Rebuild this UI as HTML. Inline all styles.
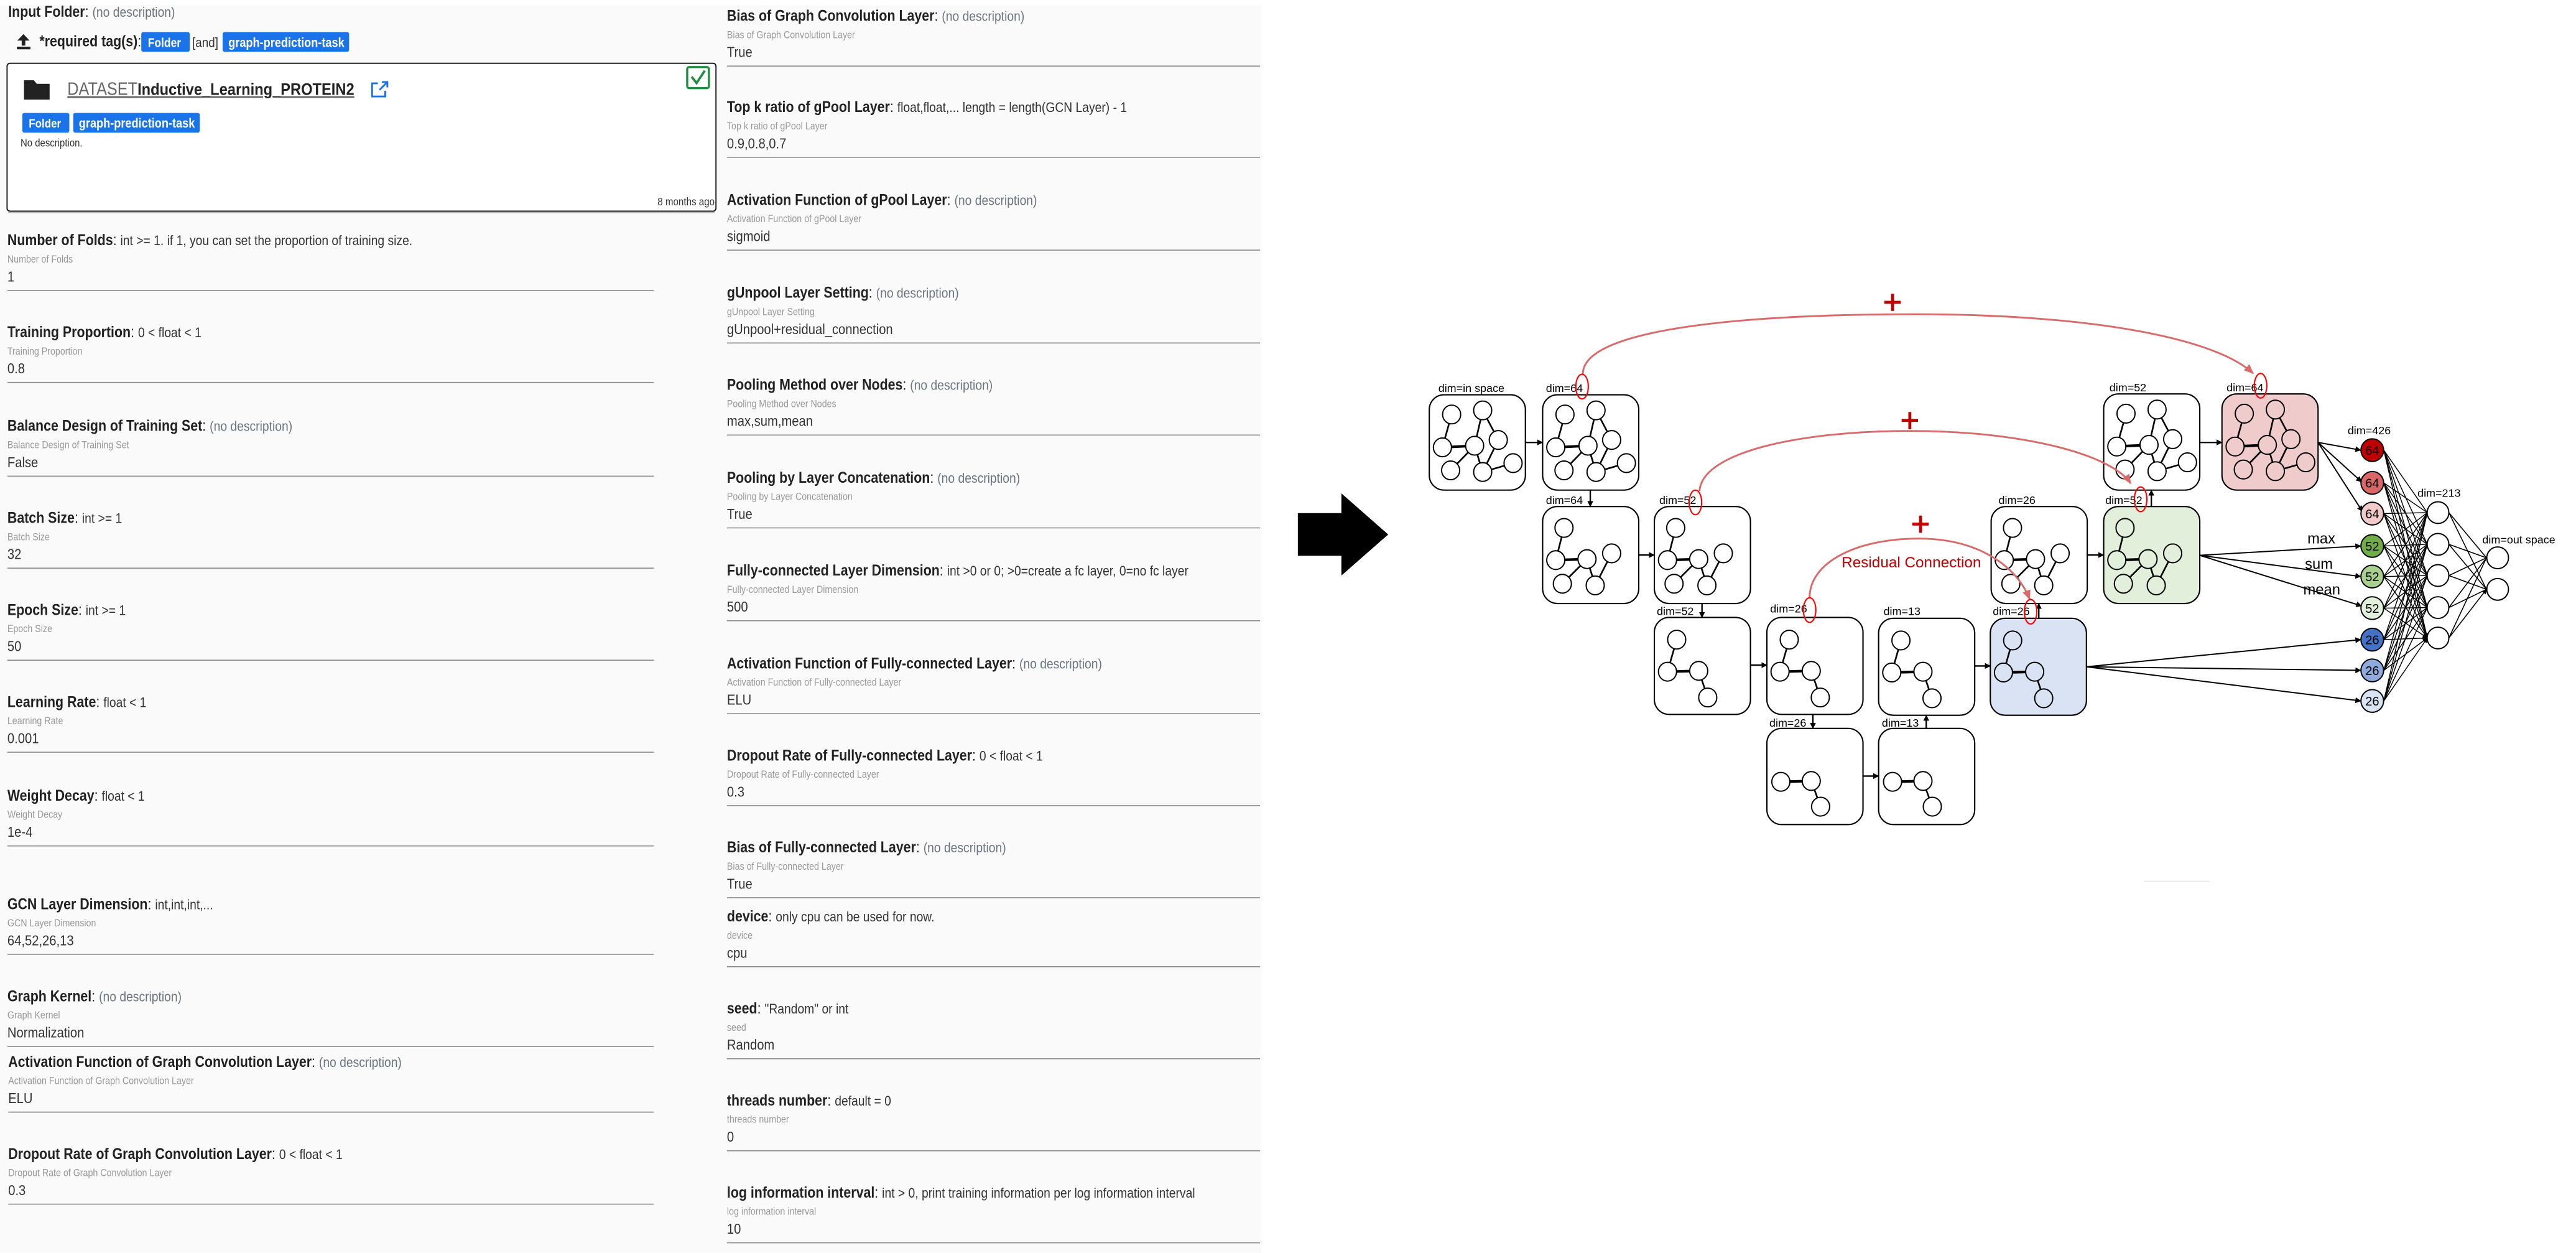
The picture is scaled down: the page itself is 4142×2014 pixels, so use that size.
<!DOCTYPE html>
<html><head><meta charset="utf-8"><style>
html,body{margin:0;padding:0;background:#fff;}
svg{display:block;}
text{font-family:"Liberation Sans",sans-serif;}
.t{font-weight:bold;font-size:9.3px;fill:#222;}
.d{font-size:8.4px;fill:#333;}
.n{font-size:8.4px;fill:#6b7580;}
.s{font-size:6.2px;fill:#999;}
.v{font-size:8.8px;fill:#333;}
.dl{font-size:6.8px;fill:#000;}
</style></head><body>
<svg width="4142" height="2014" viewBox="0 0 1568 762" xmlns="http://www.w3.org/2000/svg">
<defs>
<marker id="ah" viewBox="0 0 6 6" markerWidth="3.6" markerHeight="3.6" refX="5.5" refY="3" orient="auto" markerUnits="userSpaceOnUse"><path d="M0,0 L6,3 L0,6 z" fill="#000"/></marker>
<marker id="ah2" viewBox="0 0 6 6" markerWidth="3" markerHeight="3" refX="5.5" refY="3" orient="auto" markerUnits="userSpaceOnUse"><path d="M0,0 L6,3 L0,6 z" fill="#000"/></marker>
<marker id="rh" viewBox="0 0 6 6" markerWidth="6" markerHeight="6" refX="5.5" refY="3" orient="auto" markerUnits="userSpaceOnUse"><path d="M0,0.5 L6,3 L0,5.5 z" fill="#d96a6a"/></marker>
<g id="gbig" stroke="#000">
<g stroke-width="1"><line x1="13.6" y1="12" x2="8" y2="32"/><line x1="32.5" y1="9.5" x2="27.6" y2="31"/><line x1="32.5" y1="9.5" x2="42" y2="27.5"/><line x1="8" y1="32" x2="27.6" y2="31" stroke-width="1.6"/><line x1="27.6" y1="31" x2="13" y2="46"/><line x1="27.6" y1="31" x2="32.5" y2="47"/><line x1="42" y1="27.5" x2="32.5" y2="47"/><line x1="32.5" y1="47" x2="51" y2="41.6"/></g>
<g fill="currentColor" stroke-width="0.75"><ellipse cx="13.6" cy="12" rx="5.5" ry="5.7"/><ellipse cx="32.5" cy="9.5" rx="5.5" ry="5.7"/><ellipse cx="8" cy="32" rx="5.5" ry="5.7"/><ellipse cx="27.6" cy="31" rx="5.5" ry="5.7"/><ellipse cx="42" cy="27.5" rx="5.5" ry="5.7"/><ellipse cx="13" cy="46" rx="5.5" ry="5.7"/><ellipse cx="32.5" cy="47" rx="5.5" ry="5.7"/><ellipse cx="51" cy="41.6" rx="5.5" ry="5.7"/></g>
</g>
<g id="gmed" stroke="#000">
<g stroke-width="1"><line x1="13" y1="13" x2="8" y2="32.6"/><line x1="8" y1="32.6" x2="27" y2="32" stroke-width="1.6"/><line x1="27" y1="32" x2="12" y2="47"/><line x1="27" y1="32" x2="32" y2="48"/><line x1="42" y1="28.5" x2="32" y2="48"/></g>
<g fill="currentColor" stroke-width="0.75"><ellipse cx="13" cy="13" rx="5.5" ry="5.7"/><ellipse cx="8" cy="32.6" rx="5.5" ry="5.7"/><ellipse cx="27" cy="32" rx="5.5" ry="5.7"/><ellipse cx="42" cy="28.5" rx="5.5" ry="5.7"/><ellipse cx="12" cy="47" rx="5.5" ry="5.7"/><ellipse cx="32" cy="48" rx="5.5" ry="5.7"/></g>
</g>
<g id="gsm" stroke="#000">
<g stroke-width="1"><line x1="13.6" y1="13.5" x2="8" y2="33"/><line x1="8" y1="33" x2="27" y2="32.5" stroke-width="1.6"/><line x1="27" y1="32.5" x2="32.5" y2="48.7"/></g>
<g fill="currentColor" stroke-width="0.75"><ellipse cx="13.6" cy="13.5" rx="5.5" ry="5.7"/><ellipse cx="8" cy="33" rx="5.5" ry="5.7"/><ellipse cx="27" cy="32.5" rx="5.5" ry="5.7"/><ellipse cx="32.5" cy="48.7" rx="5.5" ry="5.7"/></g>
</g>
<g id="gti" stroke="#000">
<g stroke-width="1"><line x1="8.5" y1="32.5" x2="27" y2="32" stroke-width="1.6"/><line x1="27" y1="32" x2="32.7" y2="47.6"/></g>
<g fill="currentColor" stroke-width="0.75"><ellipse cx="8.5" cy="32.5" rx="5.5" ry="5.7"/><ellipse cx="27" cy="32" rx="5.5" ry="5.7"/><ellipse cx="32.7" cy="47.6" rx="5.5" ry="5.7"/></g>
</g>
</defs>

<rect x="0" y="3" width="768" height="759" fill="#fafafa"/>

<g transform="translate(5,10) scale(0.87,1)"><text class="t">Input Folder<tspan font-weight="normal">: </tspan><tspan class="n" font-weight="normal" font-size="8.8">(no description)</tspan></text></g>
<g fill="#222"><path d="M14.3,20.5 L10.5,24.5 L13.2,24.5 L13.2,27.5 L15.4,27.5 L15.4,24.5 L18,24.5 Z"/><rect x="10.3" y="28.2" width="8.2" height="1.6"/></g>
<g transform="translate(24,28) scale(0.87,1)"><text class="t" font-size="8.6">*required tag(s)<tspan font-weight="normal">:</tspan></text></g>
<rect x="86" y="19.3" width="29.5" height="12" rx="1.2" fill="#1a73e8"/>
<g transform="translate(90,28.3) scale(0.87,1)"><text font-size="7.6" font-weight="bold" fill="#fff">Folder</text></g>
<g transform="translate(117,28.3) scale(0.87,1)"><text font-size="8.2" fill="#333">[and]</text></g>
<rect x="135.5" y="19.3" width="77" height="12" rx="1.2" fill="#1a73e8"/>
<g transform="translate(139,28.3) scale(0.87,1)"><text font-size="7.9" font-weight="bold" fill="#fff">graph-prediction-task</text></g>

<rect x="4.3" y="38.3" width="431.5" height="90" rx="1.8" fill="#fff" stroke="#111" stroke-width="0.7"/>
<line x1="5" y1="129.2" x2="435" y2="129.2" stroke="#bbb" stroke-width="0.6"/>
<path d="M14.6,48.6 h6 l1.8,2.2 h7.8 v9.6 h-15.6 z" fill="#222"/>
<g transform="translate(41,57.5) scale(0.87,1)"><text font-size="11" fill="#666" text-decoration="underline">DATASET<tspan fill="#222" font-weight="bold" font-size="10.3" text-decoration="none">Inductive_Learning_PROTEIN2</tspan></text></g>
<g fill="none" stroke="#1a73e8" stroke-width="1.1"><path d="M230,50.5 h-3.5 v8 h8 v-3.5"/><path d="M231,54.5 L235.5,50"/><path d="M232.5,49.7 h3.3 v3.3"/></g>
<rect x="13.6" y="68.5" width="28.6" height="12" rx="1.2" fill="#1a73e8"/>
<g transform="translate(17.5,77.4) scale(0.87,1)"><text font-size="7.4" font-weight="bold" fill="#fff">Folder</text></g>
<rect x="44.6" y="68.5" width="77" height="12" rx="1.2" fill="#1a73e8"/>
<g transform="translate(48,77.4) scale(0.87,1)"><text font-size="7.9" font-weight="bold" fill="#fff">graph-prediction-task</text></g>
<g transform="translate(12.5,89) scale(0.87,1)"><text font-size="6.5" fill="#333">No description.</text></g>
<g transform="translate(435,124.8) scale(0.87,1)"><text font-size="6.6" fill="#333" text-anchor="end">8 months ago</text></g>
<rect x="418.3" y="40.6" width="13.2" height="12.8" rx="1.2" fill="none" stroke="#1e8e3e" stroke-width="1.3"/>
<path d="M421,46.5 L424,50.3 L429,42.8" fill="none" stroke="#1e8e3e" stroke-width="1.4"/>

<g>
<g transform="translate(4.5,149) scale(0.87,1)"><text class="t">Number of Folds<tspan font-weight="normal">: </tspan><tspan class="d" font-weight="normal">int &gt;= 1. if 1, you can set the proportion of training size.</tspan></text><text class="s" y="10.5">Number of Folds</text><text class="v" y="22">1</text></g>
<line x1="4.5" x2="398" y1="176.5" y2="176.5" stroke="#8a8a8a" stroke-width="0.6"/>
<g transform="translate(4.5,205) scale(0.87,1)"><text class="t">Training Proportion<tspan font-weight="normal">: </tspan><tspan class="d" font-weight="normal">0 &lt; float &lt; 1</tspan></text><text class="s" y="10.5">Training Proportion</text><text class="v" y="22">0.8</text></g>
<line x1="4.5" x2="398" y1="232.5" y2="232.5" stroke="#8a8a8a" stroke-width="0.6"/>
<g transform="translate(4.5,262) scale(0.87,1)"><text class="t">Balance Design of Training Set<tspan font-weight="normal">: </tspan><tspan class="n" font-weight="normal">(no description)</tspan></text><text class="s" y="10.5">Balance Design of Training Set</text><text class="v" y="22">False</text></g>
<line x1="4.5" x2="398" y1="289.5" y2="289.5" stroke="#8a8a8a" stroke-width="0.6"/>
<g transform="translate(4.5,318) scale(0.87,1)"><text class="t">Batch Size<tspan font-weight="normal">: </tspan><tspan class="d" font-weight="normal">int &gt;= 1</tspan></text><text class="s" y="10.5">Batch Size</text><text class="v" y="22">32</text></g>
<line x1="4.5" x2="398" y1="345.5" y2="345.5" stroke="#8a8a8a" stroke-width="0.6"/>
<g transform="translate(4.5,374) scale(0.87,1)"><text class="t">Epoch Size<tspan font-weight="normal">: </tspan><tspan class="d" font-weight="normal">int &gt;= 1</tspan></text><text class="s" y="10.5">Epoch Size</text><text class="v" y="22">50</text></g>
<line x1="4.5" x2="398" y1="401.5" y2="401.5" stroke="#8a8a8a" stroke-width="0.6"/>
<g transform="translate(4.5,430) scale(0.87,1)"><text class="t">Learning Rate<tspan font-weight="normal">: </tspan><tspan class="d" font-weight="normal">float &lt; 1</tspan></text><text class="s" y="10.5">Learning Rate</text><text class="v" y="22">0.001</text></g>
<line x1="4.5" x2="398" y1="457.5" y2="457.5" stroke="#8a8a8a" stroke-width="0.6"/>
<g transform="translate(4.5,487) scale(0.87,1)"><text class="t">Weight Decay<tspan font-weight="normal">: </tspan><tspan class="d" font-weight="normal">float &lt; 1</tspan></text><text class="s" y="10.5">Weight Decay</text><text class="v" y="22">1e-4</text></g>
<line x1="4.5" x2="398" y1="514.5" y2="514.5" stroke="#8a8a8a" stroke-width="0.6"/>
<g transform="translate(4.5,553) scale(0.87,1)"><text class="t">GCN Layer Dimension<tspan font-weight="normal">: </tspan><tspan class="d" font-weight="normal">int,int,int,...</tspan></text><text class="s" y="10.5">GCN Layer Dimension</text><text class="v" y="22">64,52,26,13</text></g>
<line x1="4.5" x2="398" y1="580.5" y2="580.5" stroke="#8a8a8a" stroke-width="0.6"/>
<g transform="translate(4.5,609) scale(0.87,1)"><text class="t">Graph Kernel<tspan font-weight="normal">: </tspan><tspan class="n" font-weight="normal">(no description)</tspan></text><text class="s" y="10.5">Graph Kernel</text><text class="v" y="22">Normalization</text></g>
<line x1="4.5" x2="398" y1="636.5" y2="636.5" stroke="#8a8a8a" stroke-width="0.6"/>
<g transform="translate(5,649) scale(0.87,1)"><text class="t">Activation Function of Graph Convolution Layer<tspan font-weight="normal">: </tspan><tspan class="n" font-weight="normal">(no description)</tspan></text><text class="s" y="10.5">Activation Function of Graph Convolution Layer</text><text class="v" y="22">ELU</text></g>
<line x1="5" x2="398" y1="676.5" y2="676.5" stroke="#8a8a8a" stroke-width="0.6"/>
<g transform="translate(5,705) scale(0.87,1)"><text class="t">Dropout Rate of Graph Convolution Layer<tspan font-weight="normal">: </tspan><tspan class="d" font-weight="normal">0 &lt; float &lt; 1</tspan></text><text class="s" y="10.5">Dropout Rate of Graph Convolution Layer</text><text class="v" y="22">0.3</text></g>
<line x1="5" x2="398" y1="732.5" y2="732.5" stroke="#8a8a8a" stroke-width="0.6"/>
</g>

<g>
<g transform="translate(442.5,12.5) scale(0.87,1)"><text class="t">Bias of Graph Convolution Layer<tspan font-weight="normal">: </tspan><tspan class="n" font-weight="normal">(no description)</tspan></text><text class="s" y="10.5">Bias of Graph Convolution Layer</text><text class="v" y="22">True</text></g>
<line x1="442.5" x2="767" y1="40" y2="40" stroke="#8a8a8a" stroke-width="0.6"/>
<g transform="translate(442.5,68) scale(0.87,1)"><text class="t">Top k ratio of gPool Layer<tspan font-weight="normal">: </tspan><tspan class="d" font-weight="normal">float,float,... length = length(GCN Layer) - 1</tspan></text><text class="s" y="10.5">Top k ratio of gPool Layer</text><text class="v" y="22">0.9,0.8,0.7</text></g>
<line x1="442.5" x2="767" y1="95.5" y2="95.5" stroke="#8a8a8a" stroke-width="0.6"/>
<g transform="translate(442.5,124.5) scale(0.87,1)"><text class="t">Activation Function of gPool Layer<tspan font-weight="normal">: </tspan><tspan class="n" font-weight="normal">(no description)</tspan></text><text class="s" y="10.5">Activation Function of gPool Layer</text><text class="v" y="22">sigmoid</text></g>
<line x1="442.5" x2="767" y1="152" y2="152" stroke="#8a8a8a" stroke-width="0.6"/>
<g transform="translate(442.5,181) scale(0.87,1)"><text class="t">gUnpool Layer Setting<tspan font-weight="normal">: </tspan><tspan class="n" font-weight="normal">(no description)</tspan></text><text class="s" y="10.5">gUnpool Layer Setting</text><text class="v" y="22">gUnpool+residual_connection</text></g>
<line x1="442.5" x2="767" y1="208.5" y2="208.5" stroke="#8a8a8a" stroke-width="0.6"/>
<g transform="translate(442.5,237) scale(0.87,1)"><text class="t">Pooling Method over Nodes<tspan font-weight="normal">: </tspan><tspan class="n" font-weight="normal">(no description)</tspan></text><text class="s" y="10.5">Pooling Method over Nodes</text><text class="v" y="22">max,sum,mean</text></g>
<line x1="442.5" x2="767" y1="264.5" y2="264.5" stroke="#8a8a8a" stroke-width="0.6"/>
<g transform="translate(442.5,293.5) scale(0.87,1)"><text class="t">Pooling by Layer Concatenation<tspan font-weight="normal">: </tspan><tspan class="n" font-weight="normal">(no description)</tspan></text><text class="s" y="10.5">Pooling by Layer Concatenation</text><text class="v" y="22">True</text></g>
<line x1="442.5" x2="767" y1="321" y2="321" stroke="#8a8a8a" stroke-width="0.6"/>
<g transform="translate(442.5,350) scale(0.87,1)"><text class="t">Fully-connected Layer Dimension<tspan font-weight="normal">: </tspan><tspan class="d" font-weight="normal">int &gt;0 or 0; &gt;0=create a fc layer, 0=no fc layer</tspan></text><text class="s" y="10.5">Fully-connected Layer Dimension</text><text class="v" y="22">500</text></g>
<line x1="442.5" x2="767" y1="377.5" y2="377.5" stroke="#8a8a8a" stroke-width="0.6"/>
<g transform="translate(442.5,406.5) scale(0.87,1)"><text class="t">Activation Function of Fully-connected Layer<tspan font-weight="normal">: </tspan><tspan class="n" font-weight="normal">(no description)</tspan></text><text class="s" y="10.5">Activation Function of Fully-connected Layer</text><text class="v" y="22">ELU</text></g>
<line x1="442.5" x2="767" y1="434" y2="434" stroke="#8a8a8a" stroke-width="0.6"/>
<g transform="translate(442.5,462.5) scale(0.87,1)"><text class="t">Dropout Rate of Fully-connected Layer<tspan font-weight="normal">: </tspan><tspan class="d" font-weight="normal">0 &lt; float &lt; 1</tspan></text><text class="s" y="10.5">Dropout Rate of Fully-connected Layer</text><text class="v" y="22">0.3</text></g>
<line x1="442.5" x2="767" y1="490" y2="490" stroke="#8a8a8a" stroke-width="0.6"/>
<g transform="translate(442.5,518.5) scale(0.87,1)"><text class="t">Bias of Fully-connected Layer<tspan font-weight="normal">: </tspan><tspan class="n" font-weight="normal">(no description)</tspan></text><text class="s" y="10.5">Bias of Fully-connected Layer</text><text class="v" y="22">True</text></g>
<line x1="442.5" x2="767" y1="546" y2="546" stroke="#8a8a8a" stroke-width="0.6"/>
<g transform="translate(442.5,560.5) scale(0.87,1)"><text class="t">device<tspan font-weight="normal">: </tspan><tspan class="d" font-weight="normal">only cpu can be used for now.</tspan></text><text class="s" y="10.5">device</text><text class="v" y="22">cpu</text></g>
<line x1="442.5" x2="767" y1="588" y2="588" stroke="#8a8a8a" stroke-width="0.6"/>
<g transform="translate(442.5,616.5) scale(0.87,1)"><text class="t">seed<tspan font-weight="normal">: </tspan><tspan class="d" font-weight="normal">"Random" or int</tspan></text><text class="s" y="10.5">seed</text><text class="v" y="22">Random</text></g>
<line x1="442.5" x2="767" y1="644" y2="644" stroke="#8a8a8a" stroke-width="0.6"/>
<g transform="translate(442.5,672.5) scale(0.87,1)"><text class="t">threads number<tspan font-weight="normal">: </tspan><tspan class="d" font-weight="normal">default = 0</tspan></text><text class="s" y="10.5">threads number</text><text class="v" y="22">0</text></g>
<line x1="442.5" x2="767" y1="700" y2="700" stroke="#8a8a8a" stroke-width="0.6"/>
<g transform="translate(442.5,728.5) scale(0.87,1)"><text class="t">log information interval<tspan font-weight="normal">: </tspan><tspan class="d" font-weight="normal">int &gt; 0, print training information per log information interval</tspan></text><text class="s" y="10.5">log information interval</text><text class="v" y="22">10</text></g>
<line x1="442.5" x2="767" y1="756" y2="756" stroke="#8a8a8a" stroke-width="0.6"/>
</g>

<path d="M790,312 H816.5 V300 L845,325 L816.5,350 V338 H790 Z" fill="#000"/>

<g stroke="#000" stroke-width="0.8">
<rect x="870" y="240" width="58.5" height="58" rx="9" fill="#fff"/>
<rect x="939" y="240" width="58.5" height="58" rx="9" fill="#fff"/>
<rect x="939" y="308" width="58.5" height="59" rx="9" fill="#fff"/>
<rect x="1007" y="308" width="58.5" height="59" rx="9" fill="#fff"/>
<rect x="1007" y="375.5" width="58.5" height="59" rx="9" fill="#fff"/>
<rect x="1075.5" y="375.5" width="58.5" height="59" rx="9" fill="#fff"/>
<rect x="1143.5" y="376" width="58.5" height="59" rx="9" fill="#fff"/>
<rect x="1211.5" y="376" width="58.5" height="59" rx="9" fill="#dae3f3"/>
<rect x="1075.5" y="443" width="58.5" height="58.5" rx="9" fill="#fff"/>
<rect x="1143.5" y="443" width="58.5" height="58.5" rx="9" fill="#fff"/>
<rect x="1212" y="308" width="58.5" height="59" rx="9" fill="#fff"/>
<rect x="1280.5" y="308" width="58.5" height="59" rx="9" fill="#e2efda"/>
<rect x="1280.5" y="239.5" width="58.5" height="58.5" rx="9" fill="#fff"/>
<rect x="1352.5" y="239.5" width="58.5" height="58.5" rx="9" fill="#f0cbcb"/>
</g>
<use href="#gbig" x="870" y="240" color="#fff"/>
<use href="#gbig" x="939" y="240" color="#fff"/>
<use href="#gbig" x="1280.5" y="239.5" color="#fff"/>
<use href="#gbig" x="1352.5" y="239.5" color="#f0cbcb"/>
<use href="#gmed" x="939" y="308" color="#fff"/>
<use href="#gmed" x="1007" y="308" color="#fff"/>
<use href="#gmed" x="1212" y="308" color="#fff"/>
<use href="#gmed" x="1280.5" y="308" color="#e2efda"/>
<use href="#gsm" x="1007" y="375.5" color="#fff"/>
<use href="#gsm" x="1075.5" y="375.5" color="#fff"/>
<use href="#gsm" x="1143.5" y="376" color="#fff"/>
<use href="#gsm" x="1211.5" y="376" color="#dae3f3"/>
<use href="#gti" x="1075.5" y="443" color="#fff"/>
<use href="#gti" x="1143.5" y="443" color="#fff"/>

<g stroke="#000" stroke-width="0.9" marker-end="url(#ah)">
<line x1="928.5" y1="269" x2="939" y2="269"/>
<line x1="968" y1="298" x2="968" y2="308"/>
<line x1="997.5" y1="337.5" x2="1007" y2="337.5"/>
<line x1="1036" y1="367" x2="1036" y2="375.5"/>
<line x1="1065.5" y1="404.5" x2="1075.5" y2="404.5"/>
<line x1="1103.5" y1="434.5" x2="1103.5" y2="443"/>
<line x1="1134" y1="472" x2="1143.5" y2="472"/>
<line x1="1172.5" y1="443" x2="1172.5" y2="435"/>
<line x1="1202" y1="405" x2="1211.5" y2="405"/>
<line x1="1241" y1="376" x2="1241" y2="367"/>
<line x1="1270.5" y1="337.5" x2="1280.5" y2="337.5"/>
<line x1="1309.5" y1="308" x2="1309.5" y2="298"/>
<line x1="1339" y1="269" x2="1352.5" y2="269"/>
</g>

<g class="dl">
<text x="875.5" y="238.3" class="dl">dim=in space</text>
<text x="941" y="238.3" class="dl">dim=64</text>
<text x="941" y="306.5" class="dl">dim=64</text>
<text x="1010" y="306.5" class="dl">dim=52</text>
<text x="1008.5" y="374" class="dl">dim=52</text>
<text x="1077.5" y="372.5" class="dl">dim=26</text>
<text x="1146.5" y="374" class="dl">dim=13</text>
<text x="1077" y="442" class="dl">dim=26</text>
<text x="1145.5" y="442" class="dl">dim=13</text>
<text x="1213" y="374" class="dl">dim=26</text>
<text x="1216.5" y="306.5" class="dl">dim=26</text>
<text x="1281.5" y="306.5" class="dl">dim=52</text>
<text x="1284" y="238" class="dl">dim=52</text>
<text x="1355.3" y="238" class="dl">dim=64</text>
<text x="1429" y="264" class="dl">dim=426</text>
<text x="1471.5" y="302" class="dl">dim=213</text>
<text x="1511" y="330.5" class="dl">dim=out space</text>
</g>

<g fill="none" stroke="#d96a6a" stroke-width="1.1">
<path d="M963.5,227.5 C963,200 1060,191 1166,191 C1270,191 1348,205 1371.5,227" marker-end="url(#rh)"/>
<path d="M1034.5,298.5 C1036,275 1095,262 1163,262 C1230,262 1285,276 1297,294" marker-end="url(#rh)"/>
<path d="M1101.5,364 C1101,342 1130,327.5 1168,327.5 C1205,327.5 1228,345 1235.5,364.5" marker-end="url(#rh)"/>
</g>
<g fill="none" stroke="#ff0000" stroke-width="0.8">
<ellipse cx="963" cy="235" rx="3.8" ry="7.5"/>
<ellipse cx="1032" cy="305.5" rx="3.8" ry="7.5"/>
<ellipse cx="1101.5" cy="371" rx="3.8" ry="7.5"/>
<ellipse cx="1376" cy="234.5" rx="3.8" ry="7.5"/>
<ellipse cx="1303" cy="303.6" rx="3.8" ry="7.5"/>
<ellipse cx="1236" cy="372" rx="3.8" ry="7.5"/>
</g>
<g stroke="#c00000" stroke-width="1.8">
<line x1="1152" y1="178.5" x2="1152" y2="189"/><line x1="1147" y1="183.7" x2="1157" y2="183.7"/>
<line x1="1162.5" y1="250.5" x2="1162.5" y2="261"/><line x1="1157.5" y1="255.6" x2="1167.5" y2="255.6"/>
<line x1="1169" y1="313.5" x2="1169" y2="324"/><line x1="1164" y1="318.7" x2="1174" y2="318.7"/>
</g>
<text x="1121" y="345" font-size="9.2" fill="#c00000">Residual Connection</text>

<g stroke="#000" stroke-width="0.75" marker-end="url(#ah)">
<line x1="1411" y1="269" x2="1437" y2="273.7"/>
<line x1="1411" y1="269" x2="1437.5" y2="293"/>
<line x1="1411" y1="269" x2="1438" y2="311"/>
<line x1="1339" y1="337.7" x2="1437" y2="332"/>
<line x1="1339" y1="337.7" x2="1437" y2="350.6"/>
<line x1="1339" y1="337.7" x2="1437.5" y2="368.5"/>
<line x1="1270" y1="405.5" x2="1437" y2="389"/>
<line x1="1270" y1="405.5" x2="1437" y2="407.7"/>
<line x1="1270" y1="405.5" x2="1437" y2="426.3"/>
</g>
<text x="1404.5" y="330.5" font-size="9" fill="#000">max</text>
<text x="1403" y="346" font-size="9" fill="#000">sum</text>
<text x="1402" y="361.5" font-size="9" fill="#000">mean</text>

<g stroke="#000" stroke-width="0.55" marker-end="url(#ah2)">
<path d="M1451,273.7L1477.5,311.7M1451,273.7L1477.5,331M1451,273.7L1477.5,350M1451,273.7L1477.5,369.5M1451,273.7L1477.5,388"/>
<path d="M1451,293.6L1477.5,311.7M1451,293.6L1477.5,331M1451,293.6L1477.5,350M1451,293.6L1477.5,369.5M1451,293.6L1477.5,388"/>
<path d="M1451,312.3L1477.5,311.7M1451,312.3L1477.5,331M1451,312.3L1477.5,350M1451,312.3L1477.5,369.5M1451,312.3L1477.5,388"/>
<path d="M1451,332L1477.5,311.7M1451,332L1477.5,331M1451,332L1477.5,350M1451,332L1477.5,369.5M1451,332L1477.5,388"/>
<path d="M1451,350.6L1477.5,311.7M1451,350.6L1477.5,331M1451,350.6L1477.5,350M1451,350.6L1477.5,369.5M1451,350.6L1477.5,388"/>
<path d="M1451,369.8L1477.5,311.7M1451,369.8L1477.5,331M1451,369.8L1477.5,350M1451,369.8L1477.5,369.5M1451,369.8L1477.5,388"/>
<path d="M1451,389L1477.5,311.7M1451,389L1477.5,331M1451,389L1477.5,350M1451,389L1477.5,369.5M1451,389L1477.5,388"/>
<path d="M1451,407.7L1477.5,311.7M1451,407.7L1477.5,331M1451,407.7L1477.5,350M1451,407.7L1477.5,369.5M1451,407.7L1477.5,388"/>
<path d="M1451,426.3L1477.5,311.7M1451,426.3L1477.5,331M1451,426.3L1477.5,350M1451,426.3L1477.5,369.5M1451,426.3L1477.5,388"/>
</g>
<g stroke="#000" stroke-width="0.6" marker-end="url(#ah2)">
<path d="M1490.6,311.7L1513.5,339.2M1490.6,311.7L1513.5,358.4M1490.6,331L1513.5,339.2M1490.6,331L1513.5,358.4M1490.6,350L1513.5,339.2M1490.6,350L1513.5,358.4M1490.6,369.5L1513.5,339.2M1490.6,369.5L1513.5,358.4M1490.6,388L1513.5,339.2M1490.6,388L1513.5,358.4"/>
</g>

<g stroke="#000" stroke-width="0.75">
<circle cx="1444" cy="273.7" r="6.9" fill="#c00000"/>
<circle cx="1444" cy="293.6" r="6.9" fill="#da6767"/>
<circle cx="1444" cy="312.3" r="6.9" fill="#f3caca"/>
<circle cx="1444" cy="332" r="6.9" fill="#70ad47"/>
<circle cx="1444" cy="350.6" r="6.9" fill="#a9d18e"/>
<circle cx="1444" cy="369.8" r="6.9" fill="#e2efda"/>
<circle cx="1444" cy="389" r="6.9" fill="#4472c4"/>
<circle cx="1444" cy="407.7" r="6.9" fill="#8faadc"/>
<circle cx="1444" cy="426.3" r="6.9" fill="#dae3f3"/>
</g>
<g font-size="7.6" fill="#000" text-anchor="middle">
<text x="1444" y="276.5">64</text><text x="1444" y="296.4">64</text><text x="1444" y="315.1">64</text>
<text x="1444" y="334.8">52</text><text x="1444" y="353.4">52</text><text x="1444" y="372.6">52</text>
<text x="1444" y="391.8">26</text><text x="1444" y="410.5">26</text><text x="1444" y="429.1">26</text>
</g>
<g stroke="#000" stroke-width="0.75" fill="#fff">
<circle cx="1484" cy="311.7" r="6.6"/><circle cx="1484" cy="331" r="6.6"/><circle cx="1484" cy="350" r="6.6"/><circle cx="1484" cy="369.5" r="6.6"/><circle cx="1484" cy="388" r="6.6"/>
<circle cx="1520.3" cy="339.2" r="6.6"/><circle cx="1520.3" cy="358.4" r="6.6"/>
</g>
<line x1="1305" y1="536" x2="1345" y2="536" stroke="#e6e6e6" stroke-width="0.6"/>
</svg>
</body></html>
